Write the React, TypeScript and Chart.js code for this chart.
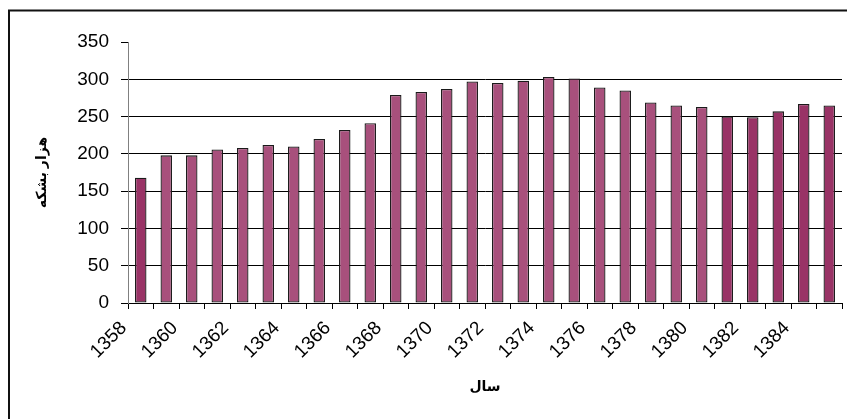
import React, { useEffect, useRef } from "react";
import { Chart, registerables } from "chart.js";

Chart.register(...registerables);

const years: string[] = [
  "1358", "1359", "1360", "1361", "1362", "1363", "1364", "1365", "1366", "1367",
  "1368", "1369", "1370", "1371", "1372", "1373", "1374", "1375", "1376", "1377",
  "1378", "1379", "1380", "1381", "1382", "1383", "1384", "1385",
];
const production: number[] = [
  168, 198, 198, 206, 208, 212, 210, 220, 232, 241,
  279, 283, 287, 297, 295, 298, 303, 301, 289, 285,
  269, 265, 263, 250, 249, 257, 267, 265,
];
const darkYears: string[] = ["1358", "1381", "1382", "1383", "1384", "1385"];
const yTicks: number[] = [0, 50, 100, 150, 200, 250, 300, 350];
const yTitle = "هزار بشکه";
const xTitle = "سال";

const DARK = "#993366";
const LIGHT = "#A8507C";
const FONT = "Arial, 'Liberation Sans', 'DejaVu Sans', sans-serif";

const framePlugin = {
  id: "frame",
  beforeDraw(chart: any) {
    const ctx = chart.ctx;
    ctx.save();
    ctx.fillStyle = "#ffffff";
    ctx.fillRect(0, 0, chart.width, chart.height);
    ctx.restore();
  },
  afterDraw(chart: any) {
    const ctx = chart.ctx;
    ctx.save();
    ctx.strokeStyle = "#111111";
    ctx.lineWidth = 2;
    ctx.beginPath();
    ctx.moveTo(8, 10.5);
    ctx.lineTo(chart.width, 10.5);
    ctx.moveTo(9, 10);
    ctx.lineTo(9, chart.height);
    ctx.stroke();
    ctx.restore();
  },
};

export default function App() {
  const ref = useRef<HTMLCanvasElement | null>(null);

  useEffect(() => {
    if (!ref.current) return;
    const colors = years.map((y) => (darkYears.includes(y) ? DARK : LIGHT));
    const chart = new Chart(ref.current, {
      type: "bar",
      data: {
        labels: years,
        datasets: [
          {
            data: production,
            backgroundColor: colors,
            borderColor: "#1a1a1a",
            borderWidth: 1.3,
            borderSkipped: false,
            barPercentage: 0.45,
            categoryPercentage: 1,
          },
        ],
      },
      plugins: [framePlugin],
      options: {
        responsive: false,
        animation: false,
        layout: { padding: { top: 42, right: 5, left: 0, bottom: 0 } },
        plugins: { legend: { display: false }, tooltip: { enabled: false } },
        scales: {
          x: {
            afterFit(scale: any) {
              scale.height = 116;
              scale.paddingRight = 0;
              scale.paddingLeft = 0;
            },
            grid: {
              offset: true,
              drawOnChartArea: false,
              drawTicks: true,
              tickLength: 6,
              tickColor: "#000000",
            },
            border: { color: "#000000", width: 1 },
            ticks: {
              autoSkip: false,
              minRotation: 45,
              maxRotation: 45,
              labelOffset: -17,
              padding: 8,
              color: "#000000",
              font: { family: FONT, size: 19 },
              callback: (_v: any, i: number) => (i % 2 === 0 ? years[i] : ""),
            },
            title: {
              display: true,
              text: xTitle,
              color: "#000000",
              font: { family: FONT, size: 14, weight: "bold" },
              padding: { top: 0, bottom: 23 },
            },
          },
          y: {
            min: 0,
            max: 350,
            afterFit(scale: any) {
              scale.width = 128;
            },
            afterBuildTicks(scale: any) {
              scale.ticks = yTicks.map((v) => ({ value: v }));
            },
            grid: {
              color: (c: any) => (c.tick && c.tick.value === 350 ? "rgba(0,0,0,0)" : "#000000"),
              tickColor: "#000000",
              tickLength: 7,
              lineWidth: 1,
            },
            border: { color: "#808080", width: 1 },
            ticks: {
              padding: 12,
              color: "#000000",
              font: { family: FONT, size: 19 },
            },
            title: {
              display: true,
              text: yTitle,
              color: "#000000",
              font: { family: FONT, size: 14, weight: "bold" },
              padding: { top: 34, bottom: 0 },
            },
          },
        },
      },
    });
    return () => chart.destroy();
  }, []);

  return (
    <canvas
      ref={ref}
      width={847}
      height={419}
      style={{ position: "absolute", left: 0, top: 0, width: 847, height: 419 }}
    />
  );
}
